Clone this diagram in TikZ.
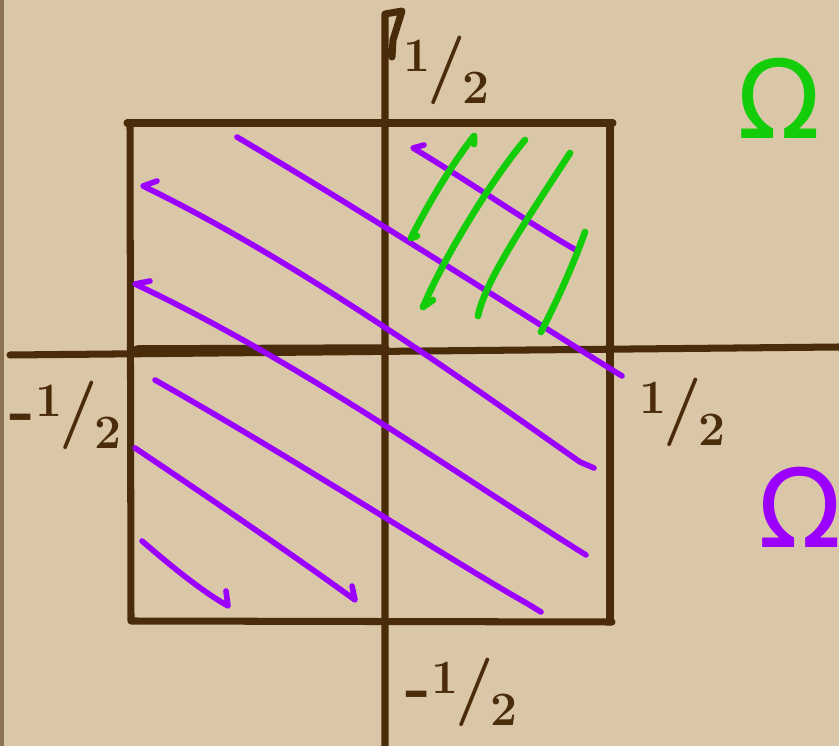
\documentclass[tikz,border=0pt]{standalone}
\usepackage{fontspec}
\newfontfamily\greekfont{DejaVu Sans}
\definecolor{paper}{RGB}{218,199,167}
\definecolor{ink}{RGB}{74,44,10}
\definecolor{lilac}{RGB}{155,0,255}
\definecolor{leaf}{RGB}{20,205,10}
\newcommand{\half}{\textsuperscript{1}\kern-0.05em/\kern-0.05em\textsubscript{2}}
\begin{document}
\begin{tikzpicture}[x=0.02cm, y=-0.02cm,
  pen/.style={draw=#1, line width=4pt, line cap=round, line join=round},
  hatch/.style={draw=#1, line width=3.2pt, line cap=round, line join=round},
  frac/.style={text=ink, font=\bfseries\fontsize{39}{44}\selectfont},
  omega/.style={text=#1, font=\greekfont\fontsize{62}{70}\selectfont}
]
  %-- paper
  \useasboundingbox (0,0) rectangle (839,746);
  \clip (0,0) rectangle (839,746);
  \fill[paper] (0,0) rectangle (839,746);
  \fill[ink!55!paper] (0,0) rectangle (4,746);

  %-- axes
  \draw[pen=ink] (385,746) -- (385,14) -- (402,11) -- (393,40) -- (392,57);
  \draw[pen=ink] (10,355) -- (839,347);
  \draw[pen=ink, line width=5.4pt] (137,350) -- (385,349);

  %-- square
  \draw[pen=ink] (127,123) -- (613,123);
  \draw[pen=ink] (130,123) -- (131,621) -- (612,622);
  \draw[pen=ink] (610,123) -- (610,622);

  %-- labels
  \node[frac] (top)    at (447,70)  {\half};
  \node[frac] (left)   at (66,415)  {-\half};
  \node[frac] (right)  at (683,412) {\half};
  \node[frac] (bottom) at (462,692) {-\half};
  \node[omega=leaf]  (omone) at (779,98)  {Ω};
  \node[omega=lilac] (omtwo) at (800,507) {Ω};

  %-- purple hatching
  \draw[hatch=lilac] (424,145) -- (413,148) .. controls (470,182) and (530,224) .. (576,250);
  \draw[hatch=lilac] (237,137) .. controls (380,222) and (500,300) .. (622,376);
  \draw[hatch=lilac] (157,181) -- (143,186) .. controls (300,262) and (470,385) .. (580,462) -- (594,468);
  \draw[hatch=lilac] (150,281) -- (135,284) .. controls (300,362) and (450,470) .. (586,555);
  \draw[hatch=lilac] (155,380) .. controls (300,462) and (450,560) .. (528,604) -- (541,612);
  \draw[hatch=lilac] (135,448) .. controls (220,505) and (300,560) .. (355,600) -- (352,586);
  \draw[hatch=lilac] (142,541) .. controls (170,565) and (200,590) .. (228,606) -- (226,591);

  %-- green hatching
  \draw[hatch=leaf, line width=3.8pt] (417,236) -- (411,238) .. controls (430,200) and (455,160) .. (474,136) -- (474,144);
  \draw[hatch=leaf, line width=3.8pt] (525,140) .. controls (495,175) and (445,255) .. (423,307) -- (433,300);
  \draw[hatch=leaf, line width=3.8pt] (570,153) .. controls (530,215) and (485,280) .. (478,316);
  \draw[hatch=leaf, line width=3.8pt] (585,232) .. controls (575,260) and (560,295) .. (541,332);
\end{tikzpicture}
\end{document}
